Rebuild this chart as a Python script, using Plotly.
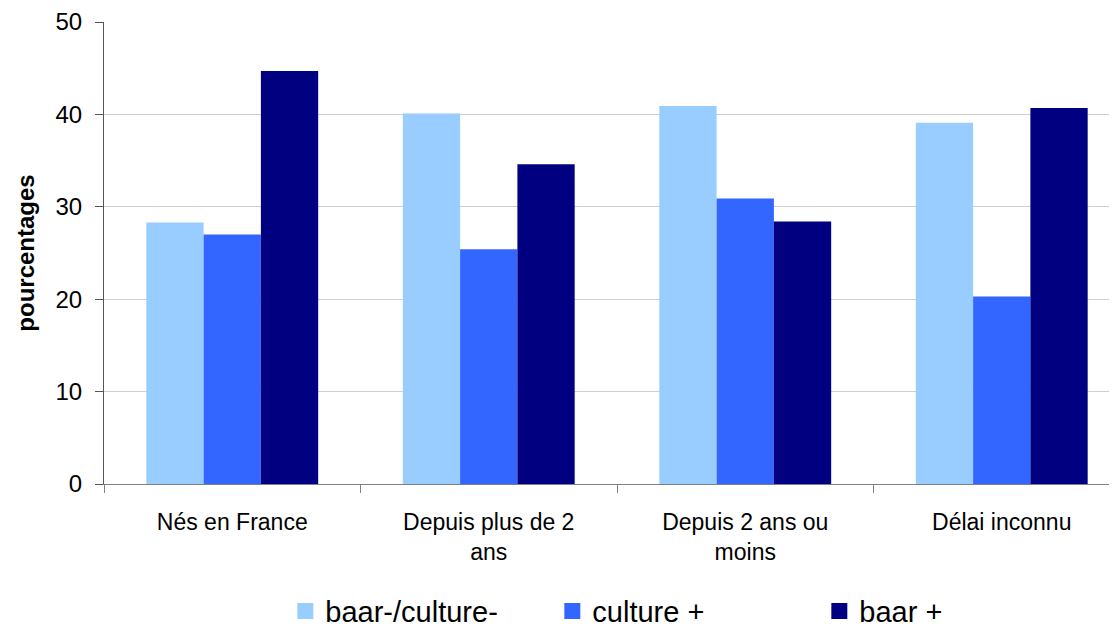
import plotly.graph_objects as go

# Données
categories = ["Nés en France", "Depuis plus de 2<br>ans", "Depuis 2 ans ou<br>moins", "Délai inconnu"]
series_names = ["baar-/culture-", "culture +", "baar +"]
baar_moins_culture_moins = [28.3, 40.1, 40.9, 39.1]
culture_plus = [27.0, 25.4, 30.9, 20.3]
baar_plus = [44.7, 34.6, 28.4, 40.7]
y_ticks = [0, 10, 20, 30, 40, 50]

COLORS = ['#99CCFF', '#3366FF', '#000080']
FONT = "Liberation Sans, Arial, sans-serif"

fig = go.Figure()
for name, values, color in zip(series_names,
                               [baar_moins_culture_moins, culture_plus, baar_plus],
                               COLORS):
    fig.add_trace(go.Bar(
        x=categories, y=values, name=name,
        marker=dict(color=color, line=dict(width=0)),
        showlegend=False,
    ))

# entrées de légende (carrés plus grands que ceux des barres)
for name, color in zip(series_names, COLORS):
    fig.add_trace(go.Scatter(
        x=[None], y=[None], mode='markers', name=name,
        marker=dict(symbol='square', size=16, color=color),
    ))

# la page ajoute une marge de 8 px autour du graphique
fig.update_layout(
    width=1109, height=619,
    paper_bgcolor='white', plot_bgcolor='white',
    font=dict(family=FONT, color='#000000'),
    margin=dict(l=96, r=0, t=14, b=143, autoexpand=False),
    barmode='group', bargap=0.33, bargroupgap=0,
    legend=dict(
        orientation='h', x=0.179, xanchor='left', y=-0.275, yanchor='middle',
        font=dict(size=29), entrywidth=222, entrywidthmode='pixels',
        itemsizing='trace', traceorder='normal',
    ),
    xaxis=dict(
        range=[-0.5, -0.5 + 1013 / 256.5], automargin=False,
        showline=True, linecolor='#808080', linewidth=1,
        ticks='outside', tickson='boundaries', ticklen=8, tickcolor='#808080',
        tickfont=dict(size=23), ticklabelstandoff=17, showgrid=False,
    ),
    yaxis=dict(
        range=[0, 50], tickvals=y_ticks, automargin=False,
        showline=True, linecolor='#555555', linewidth=1,
        ticks='outside', ticklen=8, tickcolor='#555555',
        tickfont=dict(size=24), ticklabelstandoff=8,
        gridcolor='#cfcfcf', gridwidth=1, zeroline=False,
        title=dict(text='<b>pourcentages</b>', font=dict(size=24), standoff=14),
    ),
)

fig.write_html("out.html")
